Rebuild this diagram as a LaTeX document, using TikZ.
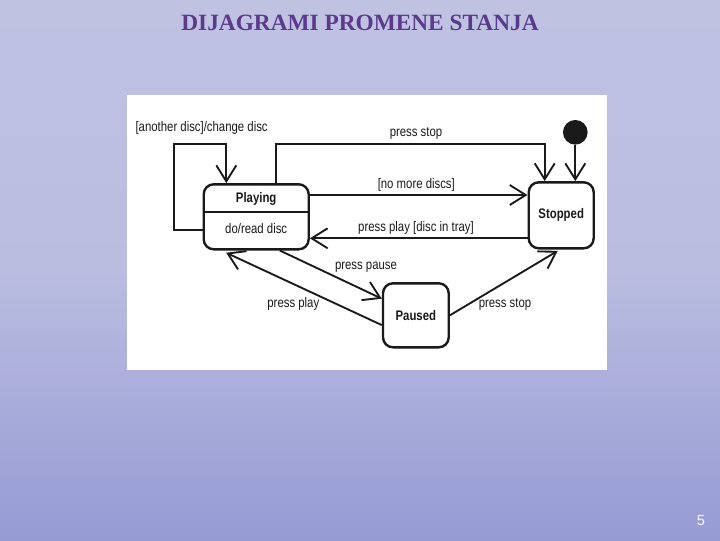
\documentclass[tikz,border=0pt]{standalone}
\usepackage{fontspec}
\setmainfont{Liberation Sans}
\newfontfamily\umlfont[FakeStretch=0.82]{Liberation Sans}
\newfontfamily\titlefont{Liberation Serif}
\usetikzlibrary{arrows.meta}
\definecolor{bgtop}{HTML}{C0C2E2}
\definecolor{bgmid}{HTML}{BABDE0}
\definecolor{bgbot}{HTML}{969BD4}
\definecolor{titlecol}{HTML}{5B3A8C}
\definecolor{inkcol}{HTML}{1A1A1A}
\begin{document}
\begin{tikzpicture}[
		x=0.75pt, y=-0.75pt,
		state/.style={draw=inkcol, line width=1.8pt, rounded corners=7.5pt, inner sep=0pt},
		lbl/.style={text=inkcol, font=\umlfont\fontsize{10.4}{12}\selectfont, inner sep=0pt},
		trans/.style={draw=inkcol, line width=1.4pt, -{Straight Barb[length=12pt, width=15pt]}},
		]
		\useasboundingbox (0,0) rectangle (720,540);
		\fill[top color=bgtop, bottom color=bgmid] (0,0) rectangle (720,270);
		\fill[top color=bgmid, bottom color=bgbot] (0,270) rectangle (720,540);
		\node[text=titlecol, font=\titlefont\bfseries\fontsize{17.5}{20}\selectfont] (title) at (360,22.5) {DIJAGRAMI PROMENE STANJA};
		\node[text=white!92!bgbot, font=\fontsize{11}{13}\selectfont] (pagenum) at (701,521) {5};
		\fill[white] (127,95) rectangle (607,370);

		\node[state, minimum width=78.75pt, minimum height=48.75pt] (playing) at (256.2,216.8) {};
		\node[lbl, font=\umlfont\bfseries\fontsize{10.4}{12}\selectfont, minimum height=19pt] (playtitle) at (256.2,199) {Playing};
		\node[lbl] (playdo) at (256.2,229) {do/read disc};
		\node[state, minimum width=48.75pt, minimum height=49.5pt, font=\umlfont\bfseries\fontsize{10.4}{12}\selectfont, text=inkcol] (stopped) at (561.2,215.3) {Stopped};
		\node[state, minimum width=49.3pt, minimum height=48pt, font=\umlfont\bfseries\fontsize{10.4}{12}\selectfont, text=inkcol] (paused) at (415.85,315.3) {Paused};
		\node[circle, fill=inkcol, minimum size=18.5pt, inner sep=0pt] (init) at (575.3,132.3) {};
		\draw[draw=inkcol, line width=1.8pt] (playing.west |- playtitle.south) -- (playing.east |- playtitle.south);

		\coordinate (loopa) at (173.7,230);
		\coordinate (loopc) at (226.3,144.3);
		\coordinate (stopa) at (276,144.3);
		\coordinate (stopb) at (544.7,144.3);
		\coordinate (nomore) at (416,195);
		\coordinate (intray) at (416,238.3);

		\draw[trans] (loopa -| playing.west) -- (loopa) |- (loopc) -- (loopc |- playing.north);
		\draw[trans] (stopa |- playing.north) -- (stopa) -- (stopb) -- (stopb |- stopped.north);
		\path (init.south) edge[trans] (init.south |- stopped.north);
		\path (nomore -| playing.east) edge[trans] (nomore -| stopped.west);
		\path (intray -| stopped.west) edge[trans] (intray -| playing.east);
		\path (playing.-55) edge[trans] (paused.154);
		\path (paused.196.5) edge[trans, shorten >=4pt] (playing.224.5);
		\path (paused.east) edge[trans, shorten >=2pt] (stopped.268);

		\node[lbl, anchor=west] (lblloop) at (135.3,128.3) {[another disc]/change disc};
		\node[lbl] (lblstop) at (416,133.3) {press stop};
		\node[lbl] (lblnomore) at (416.3,185) {[no more discs]};
		\node[lbl] (lbltray) at (416,227.7) {press play [disc in tray]};
		\node[lbl] (lblpause) at (366,266.7) {press pause};
		\node[lbl] (lblplay) at (293.3,304.3) {press play};
		\node[lbl] (lblstop2) at (505,304.3) {press stop};
\end{tikzpicture}
\end{document}
